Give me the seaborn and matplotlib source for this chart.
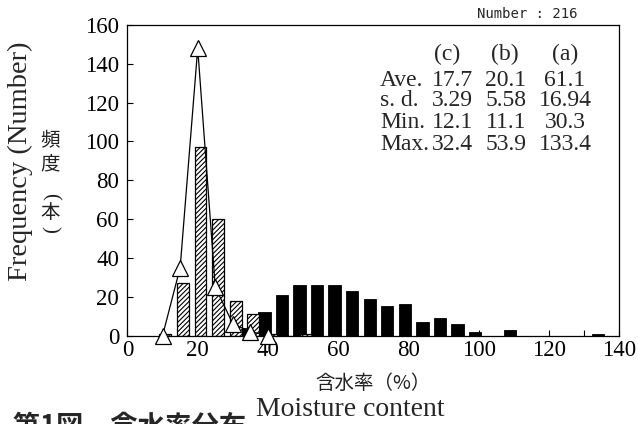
import numpy as np
import pandas as pd
import matplotlib
matplotlib.use("Agg")
import matplotlib.pyplot as plt
import seaborn as sns

# ---------------- data (class upper bounds, counts) ----------------
c_bins = [10, 15, 20, 25, 30, 35, 40]
c_counts = [0, 35, 148, 25, 6, 2, 0]

b_bins = [10, 15, 20, 25, 30, 35, 40, 45, 50]
b_counts = [1, 27, 97, 60, 18, 11, 1, 0, 1]

a_bins = [35, 40, 45, 50, 55, 60, 65, 70, 75, 80, 85, 90, 95, 100,
          105, 110, 115, 120, 125, 130, 135]
a_counts = [4, 12, 21, 26, 26, 26, 23, 19, 15, 16, 7, 9, 6, 2,
            0, 3, 0, 0, 0, 0, 1]

x_ticks = [0, 20, 40, 60, 80, 100, 120, 140]
y_ticks = [0, 20, 40, 60, 80, 100, 120, 140, 160]

stat_cols = ["(c)", "(b)", "(a)"]
stat_rows = ["Ave.", "s. d.", "Min.", "Max."]
stat_c = ["17.7", "3.29", "12.1", "32.4"]
stat_b = ["20.1", "5.58", "11.1", "53.9"]
stat_a = ["61.1", "16.94", "30.3", "133.4"]
number_label = "Number : 216"

# ---------------- style ----------------
sns.set_theme(style="ticks")
plt.rcParams["font.family"] = ["Liberation Serif", "Noto Sans CJK JP", "DejaVu Sans"]
plt.rcParams["hatch.linewidth"] = 0.8
plt.rcParams["axes.linewidth"] = 0.9

W, H = 638, 424
fig = plt.figure(figsize=(W / 100, H / 100), dpi=100)
L, R, T, B = 127.5, 619.0, 25.0, 335.5
ax = fig.add_axes([L / W, 1 - B / H, (R - L) / W, (B - T) / H])


def fx(px):
    return px / W


def fy(py):
    return 1 - py / H


df_a = pd.DataFrame({"x": np.array(a_bins, dtype=float) - 1.0, "n": a_counts})
df_b = pd.DataFrame({"x": np.array(b_bins, dtype=float) + 0.8, "n": b_counts})
df_c = pd.DataFrame({"x": c_bins, "n": c_counts})

sns.barplot(data=df_a, x="x", y="n", native_scale=True, width=0.70,
            color="black", saturation=1, edgecolor="black", linewidth=0.6,
            errorbar=None, ax=ax)
sns.barplot(data=df_b, x="x", y="n", native_scale=True, width=0.68,
            color="white", saturation=1, edgecolor="black", linewidth=0.9,
            hatch="///////", errorbar=None, ax=ax)
sns.lineplot(data=df_c, x="x", y="n", color="black", linewidth=0.9,
             marker="^", markersize=11, markerfacecolor="white",
             markeredgecolor="black", markeredgewidth=0.9, clip_on=False,
             zorder=5, ax=ax)

ax.set_xlim(0, 140)
ax.set_ylim(0, 160)
ax.set_xticks(x_ticks)
ax.set_xticks(np.arange(0, 141, 10), minor=True)
ax.set_yticks(y_ticks)
ax.set_xticklabels([str(v) for v in x_ticks])
ax.set_yticklabels([str(v) for v in y_ticks])
ax.tick_params(axis="both", which="both", direction="in", length=4.5,
               width=0.8, color="black", labelsize=16.5, labelcolor="black")
ax.tick_params(axis="y", pad=6)
ax.tick_params(axis="x", pad=3)
ax.tick_params(axis="y", which="minor", left=False)
ax.set_xlabel("")
ax.set_ylabel("")
for s in ax.spines.values():
    s.set_color("black")
    s.set_linewidth(0.9)
ax.set_facecolor("white")

# ---------------- texts ----------------
serif = ["Liberation Serif"]
cjk = ["Noto Sans CJK JP", "DejaVu Sans"]

fig.text(fx(20), fy(161), "Frequency (Number)", rotation=90, ha="center",
         va="center", fontsize=20.5, family=serif)

for ch, yy in zip(["頻", "度", "本"], [141, 164, 212]):
    fig.text(fx(50), fy(yy), ch, ha="center", va="center", fontsize=14,
             family=cjk, color="#222222")
# vertical-writing parentheses around 本
fig.text(fx(50), fy(196), "(", ha="center", va="center", rotation=-90,
         rotation_mode="anchor", fontsize=15, family=serif, color="#222222")
fig.text(fx(50), fy(229), ")", ha="center", va="center", rotation=-90,
         rotation_mode="anchor", fontsize=15, family=serif, color="#222222")

fig.text(fx(373), fy(383), "含水率（%）", ha="center", va="center",
         fontsize=14, family=cjk, color="#222222")
fig.text(fx(350), fy(409), "Moisture content", ha="center", va="center",
         fontsize=20, family=serif)
fig.text(fx(13), fy(413), "第1図　含水率分布", ha="left", va="top",
         fontsize=19.5, fontweight="bold", family=cjk)

fig.text(fx(527), fy(14), number_label, ha="center", va="center",
         fontsize=10, family=["DejaVu Sans Mono"])

hdr_x = [447, 505, 565]
for lab, xx in zip(stat_cols, hdr_x):
    fig.text(fx(xx), fy(54), lab, ha="center", va="center", fontsize=17,
             family=serif)
row_y = [80, 101, 123, 145]
for lab, c, b, a, yy in zip(stat_rows, stat_c, stat_b, stat_a, row_y):
    fig.text(fx(380), fy(yy), lab, ha="left", va="center", fontsize=17,
             family=serif)
    fig.text(fx(473), fy(yy), c, ha="right", va="center", fontsize=17,
             family=serif)
    fig.text(fx(506), fy(yy), b, ha="center", va="center", fontsize=17,
             family=serif)
    fig.text(fx(565), fy(yy), a, ha="center", va="center", fontsize=17,
             family=serif)

fig.savefig("out.png", dpi=100, facecolor="white")
